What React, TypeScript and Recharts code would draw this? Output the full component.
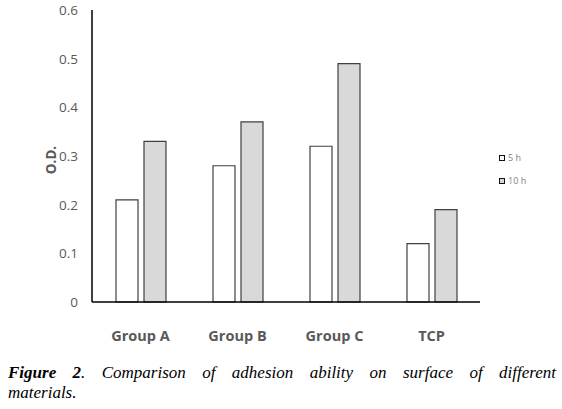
import React from "react";
import { BarChart, Bar, XAxis, YAxis } from "recharts";

const categories = ["Group A", "Group B", "Group C", "TCP"];
const values5h = [0.21, 0.28, 0.32, 0.12];
const values10h = [0.33, 0.37, 0.49, 0.19];
const yTicks = [0, 0.1, 0.2, 0.3, 0.4, 0.5, 0.6];
const seriesNames = ["5 h", "10 h"];
const seriesFills = ["#ffffff", "#d9d9d9"];

const data = categories.map((c, i) => ({ name: c, h5: values5h[i], h10: values10h[i] }));

const GRAY = "#595959";
const FONT = "'Open Sans', 'Noto Sans', sans-serif";

const YTick = (props: any) => {
  const { x, y, payload } = props;
  return (
    <text x={x - 6} y={y} textAnchor="end" dominantBaseline="central" fill={GRAY} fontSize={13.5} fontFamily={FONT}>
      {String(payload.value)}
    </text>
  );
};

const XTick = (props: any) => {
  const { x, y, payload } = props;
  return (
    <text x={x} y={y + 25} textAnchor="middle" dominantBaseline="central" fill={GRAY} fontSize={14.5} fontWeight="bold" fontFamily={FONT}>
      {payload.value}
    </text>
  );
};

export default function App() {
  return (
    <div style={{ position: "relative", width: 562, height: 409, background: "#fff" }}>
      <style>{`body{margin:0}`}</style>
      <BarChart width={562} height={345} data={data} margin={{ top: 10, right: 82, left: 0, bottom: 13 }} barGap={6} barSize={22}>
        <XAxis dataKey="name" axisLine={{ stroke: "#000", strokeWidth: 1.5 }} tickLine={false} tick={<XTick />} height={30} interval={0} />
        <YAxis
          domain={[0, 0.6]}
          ticks={yTicks}
          width={92}
          axisLine={{ stroke: "#000", strokeWidth: 1.5 }}
          tickLine={false}
          tick={<YTick />}
          interval={0}
          label={{ value: "O.D.", angle: -90, position: "insideLeft", dx: 46, dy: 4, style: { fill: GRAY, fontSize: 13.5, fontWeight: "bold", fontFamily: FONT, textAnchor: "middle" } }}
        />
        <Bar dataKey="h5" name="5 h" fill={seriesFills[0]} stroke="#404040" strokeWidth={1.2} isAnimationActive={false} />
        <Bar dataKey="h10" name="10 h" fill={seriesFills[1]} stroke="#404040" strokeWidth={1.2} isAnimationActive={false} />
      </BarChart>
      <div style={{ position: "absolute", left: 499, top: 152, fontFamily: FONT, fontSize: 9, color: "#808080" }}>
        {seriesNames.map((n, i) => (
          <div key={n} style={{ display: "flex", alignItems: "center", height: 11, marginBottom: 12 }}>
            <span style={{ display: "inline-block", width: 4, height: 4, border: "1.5px solid #111", background: seriesFills[i], marginRight: 3 }} />
            <span>{n}</span>
          </div>
        ))}
      </div>
      <div
        style={{
          position: "absolute",
          left: 8,
          top: 363,
          width: 548,
          fontFamily: "'Liberation Serif', 'DejaVu Serif', serif",
          fontStyle: "italic",
          fontSize: 17,
          lineHeight: "20px",
          color: "#000",
        }}
      >
        <div style={{ textAlign: "justify", textAlignLast: "justify" }}>
          <b>Figure 2</b>. Comparison of adhesion ability on surface of different
        </div>
        <div>materials.</div>
      </div>
    </div>
  );
}
